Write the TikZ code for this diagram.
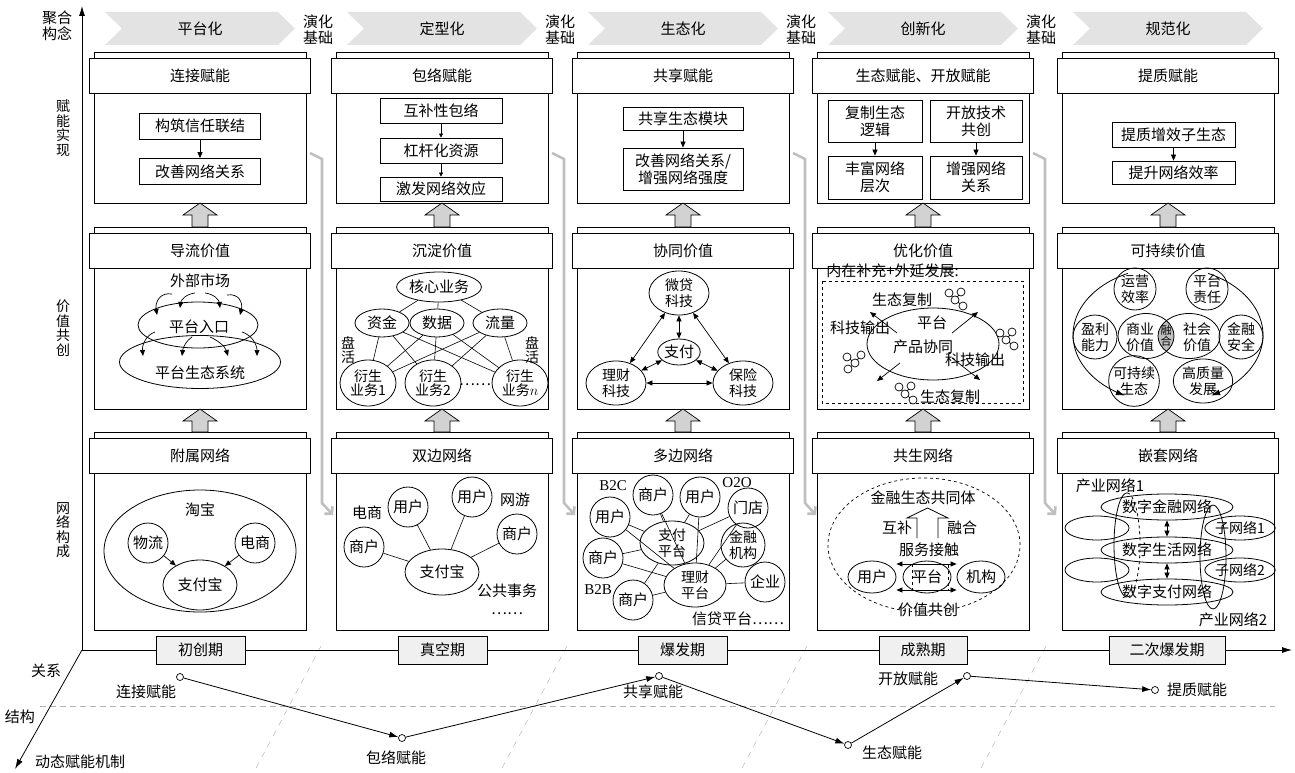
\documentclass[tikz,border=0pt]{standalone}
\usepackage{fontspec}
\setmainfont{Noto Sans CJK SC}
\newfontfamily\tms{Liberation Serif}
\usetikzlibrary{shapes.geometric, arrows.meta}
\newcommand\fs{\fontsize{15pt}{17pt}\selectfont}
\newcommand\fsl{\fontsize{15pt}{16pt}\selectfont}
\newcommand\fsm{\fontsize{14pt}{16pt}\selectfont}
\newcommand\fst{\fontsize{14pt}{13.5pt}\selectfont}
\newcommand\fsv{\fontsize{14pt}{14.5pt}\selectfont}
\newcommand\fsx{\fontsize{11pt}{11pt}\selectfont}
\tikzset{
  txt/.style={font=\fs, inner sep=0pt, align=center},
  hdr/.style={draw, fill=white, minimum width=221pt, minimum height=35pt, font=\fs},
  bx/.style={draw, fill=white, inner sep=0pt, font=\fs, align=center},
  ell/.style={ellipse, draw, inner sep=0pt, align=center, font=\fsm},
  circ/.style={circle, draw, inner sep=0pt, minimum size=40pt, align=center, font=\fs},
  arr/.style={-{Triangle[length=6pt,width=5pt]}, line width=0.7pt},
  sarr/.style={-{Triangle[length=4pt,width=4pt]}, line width=0.7pt},
  dbl/.style={{Triangle[length=6pt,width=5pt]}-{Triangle[length=6pt,width=5pt]}, line width=0.7pt},
  ln/.style={line width=0.6pt},
  blk/.style={draw, fill=gray!35, line width=0.7pt},
  gconn/.style={draw=gray!50, line width=2.6pt, -{Straight Barb[length=5pt,width=11pt]}},
  per/.style={draw, fill=gray!12, minimum height=28pt, font=\fs},
  chev/.style={fill=gray!22},
  pt/.style={circle, draw, fill=white, minimum size=7pt, inner sep=0pt, line width=0.7pt},
  tarr/.style={-{Latex[length=9pt,width=6pt]}, line width=0.8pt},
  axarr/.style={-{Latex[length=10pt,width=6pt]}, line width=0.8pt},
  gdash/.style={draw=gray!60, line width=0.7pt, dash pattern=on 6pt off 4pt},
  gslant/.style={draw=gray!55, line width=0.5pt, dash pattern=on 6pt off 6pt},
  mol/.pic={
    \draw[line width=0.7pt] (-6,-4) -- (0,3) -- (6,-5) (0,3) -- (8,9);
    \foreach \a/\b in {-6/-4,6/-5,0/3,8/9} \draw[fill=white,line width=0.7pt] (\a,\b) circle[radius=4pt];
  }
}
\begin{document}
\begin{tikzpicture}[x=1pt,y=-1pt,line width=0.8pt]
\useasboundingbox (0,0) rectangle (1295,773);

% ---------- axes ----------
\coordinate (o) at (82,650);
\coordinate (ytop) at (82,6);
\coordinate (xend) at (1292,650);
\coordinate (dend) at (15,769);
\foreach \x in {321,567,807,1046} \draw[gslant] (\x,646) -- (\x-66,770);
\draw[gdash] (40,706) -- (1275,706);
\draw[axarr] (o) -- (ytop);
\draw[axarr] (o) -- (xend);
\draw[axarr] (o) -- (dend);
\node[txt] (lgx) at (46,671) {关系};
\node[txt] (lgj) at (20,717) {结构};
\node[txt] (lgd) at (80,762) {动态赋能机制};

% ---------- left labels ----------
\node[txt, font=\fsl] (jh) at (57,26) {聚合\\构念};
\node[txt, font=\fsv] (fnsx) at (63,128) {赋\\能\\实\\现};
\node[txt, font=\fsv] (jzgc) at (63,328) {价\\值\\共\\创};
\node[txt, font=\fsv] (wlgc) at (63,530) {网\\络\\构\\成};

% ---------- chevrons ----------
\foreach \c/\t [count=\i] in {200/平台化,442/定型化,683/生态化,923/创新化,1168/规范化} {
  \fill[chev] (\c-95,12) -- (\c+78,12) -- (\c+95,28.5) -- (\c+78,45) -- (\c-95,45) -- (\c-78,28.5) -- cycle;
  \node[txt] (chev\i) at (\c,29) {\t};
}
\foreach \x [count=\i] in {318,560,801,1041} \node[txt, font=\fsl] (yhjc\i) at (\x,30) {演化\\基础};

% ---------- grey connectors ----------
\foreach \c in {200,442,683,923} \draw[gconn] (\c+110,153) -- (\c+122,159) -- (\c+122,503) -- (\c+133,515);

% ---------- frames ----------
\foreach \c in {200,442,683,923,1168} {
  \draw (\c-106,52) rectangle (\c+106,203);
  \draw (\c-106,227) rectangle (\c+106,409);
  \draw (\c-106,432) rectangle (\c+106,630);
  \foreach \yt/\yb in {203/227,409/432}
    \filldraw[blk] (\c-8,\yb) -- (\c-8,\yt+12) -- (\c-17,\yt+12) -- (\c,\yt) -- (\c+17,\yt+12) -- (\c+8,\yt+12) -- (\c+8,\yb) -- cycle;
}
\node[hdr] (h1a) at (200,75.5) {连接赋能};
\node[hdr] (h2a) at (442,75.5) {包络赋能};
\node[hdr] (h3a) at (683,75.5) {共享赋能};
\node[hdr] (h4a) at (923,75.5) {生态赋能、开放赋能};
\node[hdr] (h5a) at (1168,75.5) {提质赋能};
\node[hdr] (h1b) at (200,250.5) {导流价值};
\node[hdr] (h2b) at (442,250.5) {沉淀价值};
\node[hdr] (h3b) at (683,250.5) {协同价值};
\node[hdr] (h4b) at (923,250.5) {优化价值};
\node[hdr] (h5b) at (1168,250.5) {可持续价值};
\node[hdr] (h1c) at (200,456) {附属网络};
\node[hdr] (h2c) at (442,456) {双边网络};
\node[hdr] (h3c) at (683,456) {多边网络};
\node[hdr] (h4c) at (923,456) {共生网络};
\node[hdr] (h5c) at (1168,456) {嵌套网络};

% ---------- column 1 ----------
\node[bx, minimum width=121pt, minimum height=26pt] (c1a) at (200,126) {构筑信任联结};
\node[bx, minimum width=121pt, minimum height=26pt] (c1b) at (200,171.5) {改善网络关系};
\draw[arr] (c1a) -- (c1b);

\node[ellipse, draw, minimum width=120pt, minimum height=46pt] (rk) at (198,325) {};
\node[ellipse, draw, minimum width=161pt, minimum height=53pt] (stxt) at (200,362) {};
\node[txt] (wbsc) at (200,281) {外部市场};
\node[txt] (rkt) at (199,327) {平台入口};
\node[txt] (stt) at (200,373) {平台生态系统};
\draw[arr] (172,294) .. controls (160,292) and (155,302) .. (157,315);
\draw[arr] (195,293) .. controls (186,294) and (181,300) .. (180,308);
\draw[arr] (205,293) .. controls (214,294) and (219,300) .. (220,308);
\draw[arr] (227,295) .. controls (239,293) and (243,303) .. (240,315);
\draw[arr] (155,332) .. controls (146,335) and (142,345) .. (143,356);
\draw[arr] (192,337) .. controls (187,340) and (183,347) .. (182,356);
\draw[arr] (210,337) .. controls (217,340) and (225,346) .. (228,356);
\draw[arr] (242,332) .. controls (252,335) and (257,345) .. (257,356);

\node[ellipse, draw, minimum width=192pt, minimum height=122pt] (tb) at (200,551) {};
\node[txt] (tbt) at (200,510) {淘宝};
\node[circ] (wuliu) at (148,543) {物流};
\node[circ] (dsh) at (255,543) {电商};
\node[ell, font=\fs, minimum width=74pt, minimum height=50pt] (zfb1) at (200,585) {支付宝};
\draw[arr] (wuliu) -- (zfb1);
\draw[arr] (dsh) -- (zfb1);

% ---------- column 2 ----------
\node[bx, minimum width=122pt, minimum height=25pt] (c2a) at (441,110.5) {互补性包络};
\node[bx, minimum width=122pt, minimum height=25pt] (c2b) at (441,150.5) {杠杆化资源};
\node[bx, minimum width=122pt, minimum height=24pt] (c2c) at (441,189) {激发网络效应};
\draw[sarr] (c2a) -- (c2b);
\draw[sarr] (c2b) -- (c2c);

\node[ell, font=\fs, minimum width=82pt, minimum height=30pt] (hxyw) at (439,287) {核心业务};
\node[ell, font=\fs, minimum width=54pt, minimum height=28pt] (zj) at (382,323) {资金};
\node[ell, font=\fs, minimum width=54pt, minimum height=28pt] (sj) at (437,323) {数据};
\node[ell, font=\fs, minimum width=54pt, minimum height=28pt] (ll) at (500,323) {流量};
\node[ell, font=\fst, minimum width=56pt, minimum height=46pt] (ys1) at (368,383) {衍生\\业务1};
\node[ell, font=\fst, minimum width=56pt, minimum height=46pt] (ys2) at (433,383) {衍生\\业务2};
\node[ell, font=\fst, minimum width=56pt, minimum height=46pt] (ysn) at (520,383) {衍生\\业务$n$};
\node[txt] (dots2) at (475,385) {……};
\node[txt, font=\fsv] (ph1) at (348,350) {盘\\活};
\node[txt, font=\fsv] (ph2) at (532,350) {盘\\活};
\foreach \m in {zj,sj,ll} {
  \draw[ln] (hxyw) -- (\m);
  \foreach \d in {ys1,ys2,ysn} \draw[ln] (\m) -- (\d);
}

\node[circ] (u21) at (408,507) {用户};
\node[circ] (u22) at (472,497) {用户};
\node[circ] (s21) at (364,547) {商户};
\node[circ] (s22) at (517,534) {商户};
\node[ell, font=\fs, minimum width=74pt, minimum height=46pt] (zfb2) at (442,572) {支付宝};
\foreach \m in {u21,u22,s21,s22} \draw[ln] (zfb2) -- (\m);
\node[txt] (ds2) at (367,513) {电商};
\node[txt] (wy2) at (515,500) {网游};
\node[txt] (gg2) at (507,591) {公共事务};
\node[txt] (dd2) at (507,614) {……};

% ---------- column 3 ----------
\node[bx, minimum width=120pt, minimum height=23pt] (c3a) at (683,119) {共享生态模块};
\node[bx, minimum width=120pt, minimum height=42pt] (c3b) at (683,169) {改善网络关系/\\增强网络强度};
\draw[arr] (c3a) -- (c3b);

\node[ell, minimum width=60pt, minimum height=44pt] (wd) at (679,293) {微贷\\科技};
\node[ell, font=\fs, minimum width=42pt, minimum height=26pt] (zf3) at (679,352) {支付};
\node[ell, minimum width=60pt, minimum height=44pt] (lc3) at (616,383) {理财\\科技};
\node[ell, minimum width=60pt, minimum height=44pt] (bx3) at (743,383) {保险\\科技};
\draw[dbl] (wd) -- (lc3);
\draw[dbl] (wd) -- (bx3);
\draw[dbl] (wd) -- (zf3);
\draw[dbl] (zf3) -- (lc3);
\draw[dbl] (zf3) -- (bx3);
\draw[dbl] (lc3) -- (bx3);

\node[circ] (u31) at (610,517) {用户};
\node[circ] (s31) at (653,495) {商户};
\node[circ] (u32) at (700,497) {用户};
\node[circ] (md3) at (748,508) {门店};
\node[circ, font=\fsm, minimum size=44pt] (jr3) at (743,545) {金融\\机构};
\node[circ] (s32) at (603,558) {商户};
\node[circ] (qy3) at (765,582) {企业};
\node[circ] (s33) at (633,600) {商户};
\node[ell, minimum width=64pt, minimum height=44pt, fill=white] (zfpt) at (672,543) {支付\\平台};
\node[ell, minimum width=62pt, minimum height=44pt, fill=white] (lcpt) at (695,585) {理财\\平台};
\foreach \m in {u31,s31,u32,md3,s32,s33} {
  \draw[ln] (\m) -- (zfpt);
  \draw[ln] (\m) -- (lcpt);
}
\draw[ln] (jr3) -- (lcpt);
\draw[ln] (qy3) -- (lcpt);
\node[txt, font=\tms\fontsize{15pt}{15pt}\selectfont] (b2c) at (613,486) {B2C};
\node[txt, font=\tms\fontsize{15pt}{15pt}\selectfont] (o2o) at (737,483) {O2O};
\node[txt, font=\tms\fontsize{15pt}{15pt}\selectfont] (b2b) at (598,590) {B2B};
\node[txt] (xd3) at (738,619) {信贷平台……};

% ---------- column 4 ----------
\node[bx, minimum width=94pt, minimum height=42pt] (c4a) at (875,121) {复制生态\\逻辑};
\node[bx, minimum width=92pt, minimum height=42pt] (c4b) at (976,121) {开放技术\\共创};
\node[bx, minimum width=94pt, minimum height=43pt] (c4c) at (875,177.5) {丰富网络\\层次};
\node[bx, minimum width=92pt, minimum height=43pt] (c4d) at (976,177.5) {增强网络\\关系};
\draw[arr] (c4a) -- (c4c);
\draw[arr] (c4b) -- (c4d);

\node[txt, anchor=west] (nzbc) at (826,271) {内在补充+外延发展:};
\draw[dashed, line width=0.7pt] (822,281) rectangle (1023,403);
\node[ellipse, draw, minimum width=132pt, minimum height=72pt] (ptcp) at (933,344) {};
\draw[arr] (897,333) -- (870,312);
\draw[arr] (952,333) -- (978,312);
\draw[arr] (900,363) -- (877,381);
\draw[arr] (952,358) -- (980,380);
\node[txt] (stfz1) at (902,300) {生态复制};
\node[txt] (ptt) at (932,323) {平台};
\node[txt] (kjsc1) at (860,328) {科技输出};
\node[txt] (cpxt) at (923,347) {产品协同};
\node[txt] (kjsc2) at (975,360) {科技输出};
\node[txt] (stfz2) at (950,397) {生态复制};
\pic at (955,297) {mol};
\pic at (1006,337) {mol};
\pic[rotate=90] at (852,363) {mol};
\pic at (905,391) {mol};

\node[ellipse, draw, dashed, line width=0.7pt, minimum width=192pt, minimum height=134pt] (gsw) at (924,545) {};
\node[txt] (jrst) at (923,498) {金融生态共同体};
\filldraw[fill=white, line width=0.8pt] (917,538) -- (917,518) -- (907,518) -- (927.5,508) -- (948,518) -- (938,518) -- (938,538);
\node[txt] (hb4) at (897,528) {互补};
\node[txt] (rh4) at (962,528) {融合};
\node[txt] (fwjc) at (929,550) {服务接触};
\node[ell, font=\fs, minimum width=48pt, minimum height=32pt] (yh4) at (872,577) {用户};
\node[ell, font=\fs, minimum width=48pt, minimum height=32pt] (pt4) at (927,577) {平台};
\node[ell, font=\fs, minimum width=48pt, minimum height=32pt] (jg4) at (981,577) {机构};
\draw[dashed, line width=0.6pt] (912,564) rectangle (948,590);
\draw[dbl] ([yshift=13pt]yh4.east) -- ([yshift=13pt]jg4.west);
\draw[dbl] ([yshift=-13pt]yh4.east) -- ([yshift=-13pt]jg4.west);
\node[txt] (jzgc4) at (928,610) {价值共创};

% ---------- column 5 ----------
\node[bx, minimum width=123pt, minimum height=25pt] (c5a) at (1173.5,134.5) {提质增效子生态};
\node[bx, minimum width=123pt, minimum height=23pt] (c5b) at (1173.5,172.5) {提升网络效率};
\draw[arr] (c5a) -- (c5b);

\draw[tarr, line width=0.8pt] plot[domain=245:117, samples=50, smooth] ({1168+95*cos(\x)}, {335+68*sin(\x)});
\draw[tarr, line width=0.8pt] plot[domain=-65:63, samples=50, smooth] ({1168+95*cos(\x)}, {335+68*sin(\x)});
\begin{scope}
  \clip (1146,336) ellipse [x radius=28pt, y radius=22.5pt];
  \fill[gray!50] (1189,336) ellipse [x radius=31pt, y radius=22.5pt];
\end{scope}
\node[ell, minimum width=56pt, minimum height=45pt] (syjz) at (1146,336) {};
\node[ell, minimum width=62pt, minimum height=45pt] (shjz) at (1189,336) {};
\node[txt, font=\fsm] (syt) at (1140,337) {商业\\价值};
\node[txt, font=\fsm] (sht) at (1197,337) {社会\\价值};
\node[txt, font=\fsx] (rht) at (1166,336) {融\\合};
\node[circ, font=\fsm, minimum size=42pt] (yyxl) at (1135,289) {运营\\效率};
\node[circ, font=\fsm, minimum size=42pt] (ptzr) at (1207,289) {平台\\责任};
\node[circ, font=\fsm, minimum size=44pt] (ylnl) at (1095,337) {盈利\\能力};
\node[circ, font=\fsm, minimum size=44pt] (jraq) at (1241,337) {金融\\安全};
\node[circ, font=\fsm, minimum size=44pt] (kcxs) at (1134,381) {可持续\\生态};
\node[ell, minimum width=50pt, minimum height=44pt] (gzl) at (1203,381) {高质量\\发展};

\node[txt] (cy1) at (1110,486) {产业网络1};
\node[ell, font=\fs, minimum width=132pt, minimum height=26pt] (n1) at (1167,507) {数字金融网络};
\node[ell, font=\fs, minimum width=132pt, minimum height=26pt] (n2) at (1167,550) {数字生活网络};
\node[ell, font=\fs, minimum width=132pt, minimum height=26pt] (n3) at (1167,592) {数字支付网络};
\node[ell, minimum width=64pt, minimum height=24pt] (e1) at (1097,528) {};
\node[ell, minimum width=64pt, minimum height=24pt] (e2) at (1097,570) {};
\node[ell, font=\fsm, minimum width=64pt, minimum height=24pt] (z1) at (1240,528) {子网络1};
\node[ell, font=\fsm, minimum width=64pt, minimum height=24pt] (z2) at (1240,570) {子网络2};
\draw[line width=0.8pt] plot[domain=90:270, samples=40, smooth] ({1127+13*cos(\x)}, {545+52*sin(\x)});
\draw[line width=0.8pt, dashed] plot[domain=-90:90, samples=40, smooth] ({1127+13*cos(\x)}, {545+52*sin(\x)});
\node[ellipse, draw, minimum width=26pt, minimum height=104pt] (tall2) at (1213,557) {};
\draw[dbl] (n1) -- (n2);
\draw[dbl] (n2) -- (n3);
\node[txt] (cy2) at (1233,620) {产业网络2};

% ---------- timeline ----------
\node[per, minimum width=89pt] (per1) at (200.5,650) {初创期};
\node[per, minimum width=89pt] (per2) at (442.5,650) {真空期};
\node[per, minimum width=89pt] (per3) at (682.5,650) {爆发期};
\node[per, minimum width=88pt] (per4) at (923,650) {成熟期};
\node[per, minimum width=116pt] (per5) at (1167,650) {二次爆发期};

\node[pt] (p1) at (180,677) {};
\node[pt] (p2) at (402,738) {};
\node[pt] (p3) at (659,676) {};
\node[pt] (p4) at (848,745) {};
\node[pt] (p5) at (967,676) {};
\node[pt] (p6) at (1155,690) {};
\draw[tarr] (p1) -- (p2);
\draw[tarr] (p2) -- (p3);
\draw[tarr] (p3) -- (p4);
\draw[tarr] (p4) -- (p5);
\draw[tarr] (p5) -- (p6);
\node[txt] (l1) at (146,692) {连接赋能};
\node[txt] (l2) at (396,758) {包络赋能};
\node[txt] (l3) at (653,692) {共享赋能};
\node[txt] (l4) at (892,753) {生态赋能};
\node[txt] (l5) at (908,679) {开放赋能};
\node[txt] (l6) at (1197,690) {提质赋能};
\end{tikzpicture}
\end{document}
